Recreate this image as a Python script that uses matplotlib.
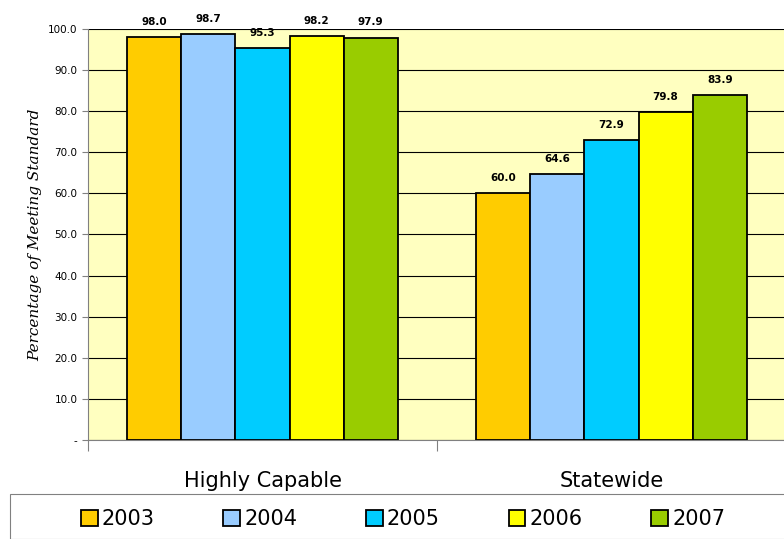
import numpy as np
import matplotlib
matplotlib.use("Agg")
from matplotlib import pyplot as plt
from matplotlib.patches import Rectangle

categories = ["Highly Capable", "Statewide"]
years = ["2003", "2004", "2005", "2006", "2007"]
values = {
    "2003": [98.0, 60.0],
    "2004": [98.7, 64.6],
    "2005": [95.3, 72.9],
    "2006": [98.2, 79.8],
    "2007": [97.9, 83.9],
}
colors = ["#FFCC00", "#99CCFF", "#00CCFF", "#FFFF00", "#99CC00"]
yticks = [0, 10, 20, 30, 40, 50, 60, 70, 80, 90, 100]
ytick_labels = ["-"] + ["%.1f" % t for t in yticks[1:]]

fig = plt.figure(figsize=(7.84, 5.39), dpi=100)
ax = fig.add_axes([88 / 784, 99 / 539, 698 / 784, 411 / 539])
ax.set_facecolor("#FFFFC0")

w = 0.155
x = np.arange(len(categories)) + 0.5
for i, yr in enumerate(years):
    pos = x + (i - 2) * w
    bars = ax.bar(pos, values[yr], w, color=colors[i], edgecolor="black", linewidth=1.3, zorder=3, label=yr)
    for b, v in zip(bars, values[yr]):
        ax.text(b.get_x() + w / 2, v + 2.5, "%.1f" % v, ha="center", va="bottom",
                fontsize=7.5, fontweight="bold")

ax.set_xlim(0, 2)
ax.set_ylim(0, 100)
ax.set_yticks(yticks)
ax.set_yticklabels(ytick_labels, fontsize=7.5)
ax.yaxis.grid(True, color="black", linewidth=0.8, zorder=0)
ax.set_xticks([0, 1, 2])
ax.set_xticklabels([])
ax.tick_params(axis="x", length=8, direction="out", color="#808080")
ax.tick_params(axis="y", length=4, color="#808080")
for c, xc in zip(categories, x):
    ax.text(xc, -7.5, c, ha="center", va="top", fontsize=15, transform=ax.transData)
for s in ["top", "right"]:
    ax.spines[s].set_visible(False)
ax.spines["left"].set_color("#808080")
ax.spines["bottom"].set_color("#808080")
ax.set_ylabel("Percentage of Meeting Standard", family="DejaVu Serif", style="italic", fontsize=11)

fig.patches.append(Rectangle((10 / 784, 0), 780 / 784, 45 / 539, transform=fig.transFigure,
                             fill=False, edgecolor="#808080", linewidth=0.8))
leg = fig.legend(loc="center", bbox_to_anchor=(403 / 784, 20 / 539), ncol=5, fontsize=15,
                 frameon=False, handlelength=0.8, handleheight=0.8, handletextpad=0.2,
                 columnspacing=3.3, borderaxespad=0)

fig.savefig("out.png", dpi=100)
